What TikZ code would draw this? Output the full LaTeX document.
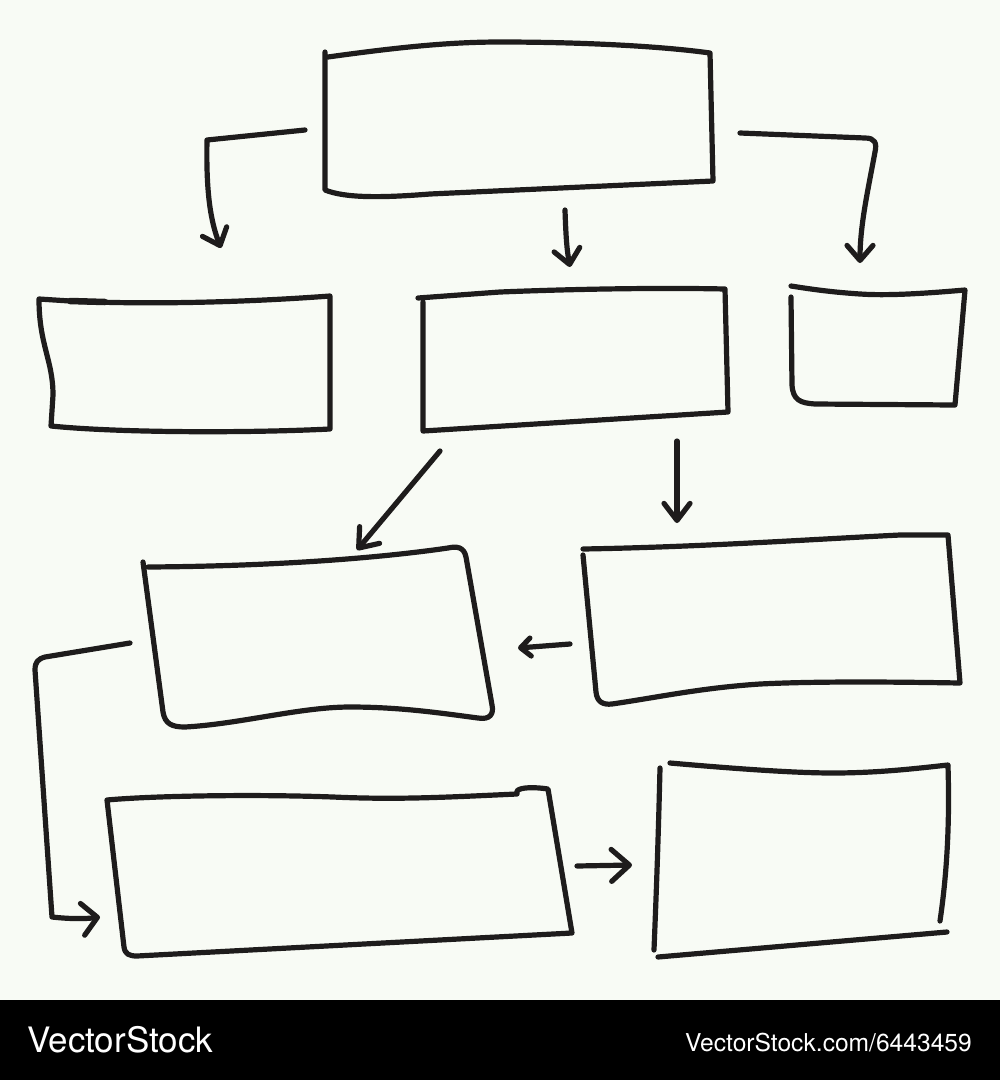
\documentclass[tikz,border=0pt]{standalone}
\usepackage{fontspec}
\newfontfamily\wmfont{TeX Gyre Heros}
\usetikzlibrary{arrows.meta}
\definecolor{paper}{RGB}{248,251,245}
\definecolor{ink}{RGB}{30,28,28}
\tikzset{
  sk/.style={draw=ink, line width=5.2pt, line cap=round, line join=round},
  arr/.style={sk, -{Straight Barb[round, length=#1, width=26pt]}},
  arr/.default=15pt,
  wm/.style={text=white, inner sep=0pt}
}
\begin{document}
\begin{tikzpicture}[x=1pt, y=-1pt]
\useasboundingbox (0,0) rectangle (1000,1080);
\fill[paper] (0,0) rectangle (1000,1000);
\fill[black] (0,1000) rectangle (1000,1080);

% ---- boxes ----
% top box A
\draw[sk] (325,52) -- (325,190) .. controls (345,198) and (380,198) .. (430,194) -- (713,181) -- (710,53)
  .. controls (660,46) and (580,42) .. (500,42) .. controls (450,42) and (400,47) .. (328,57);
% B1 left middle
\draw[sk] (39,299) .. controls (39,345) and (53,360) .. (53,395) -- (51,426)
  .. controls (120,433) and (250,433) .. (330,429) -- (330,296)
  .. controls (250,302) and (150,305) .. (70,301) -- (39,299);
\draw[sk, line width=6.5pt] (70,301) -- (105,302);
% B2 centre middle
\draw[sk] (418,298) -- (500,292) .. controls (600,288) and (680,288) .. (725,289) -- (728,412) -- (423,431) -- (423,302);
% B3 right middle
\draw[sk] (791,297) -- (792,385) .. controls (793,400) and (800,403) .. (815,404) -- (955,405) -- (965,290)
  .. controls (930,293) and (890,296) .. (860,294) .. controls (830,292) and (810,289) .. (791,286);
% C1
\draw[sk] (143,562) -- (163,712) .. controls (165,724) and (172,727) .. (185,727)
  .. controls (240,724) and (300,707) .. (350,707) .. controls (400,707) and (440,713) .. (478,718)
  .. controls (490,720) and (494,714) .. (492,705) -- (466,557)
  .. controls (464,547) and (457,546) .. (448,548) .. controls (400,555) and (300,566) .. (148,567);
% C2
\draw[sk] (583,555) -- (596,692) .. controls (597,702) and (603,705) .. (612,704)
  .. controls (660,697) and (700,688) .. (760,684) .. controls (820,681) and (900,682) .. (960,683)
  -- (948,535) -- (900,535) .. controls (800,540) and (700,547) .. (583,549);
% D1
\draw[sk] (107,800) -- (124,947) .. controls (125,954) and (129,956) .. (137,956) -- (572,933) -- (548,789)
  .. controls (535,787) and (520,787) .. (517,791) -- (517,794)
  .. controls (450,797) and (400,800) .. (333,797) .. controls (250,794) and (150,796) .. (107,800);
% D2
\draw[sk] (660,768) .. controls (658,850) and (656,900) .. (654,950);
\draw[sk] (670,763) .. controls (750,770) and (800,773) .. (833,773) .. controls (880,773) and (920,768) .. (948,765);
\draw[sk] (948,766) .. controls (950,830) and (946,880) .. (940,921);
\draw[sk] (658,957) -- (947,932);

% ---- connector ends ----
\coordinate (a1s) at (305,130);
\coordinate (a1e) at (221,248);
\coordinate (a2s) at (565,210);
\coordinate (a2e) at (570,267);
\coordinate (a3s) at (740,133);
\coordinate (a3e) at (860,263);
\coordinate (b2s) at (440,451);
\coordinate (b2e) at (357,550);
\coordinate (b3s) at (677,441);
\coordinate (b3e) at (677,523);
\coordinate (c2s) at (570,644);
\coordinate (c2e) at (518,648);
\coordinate (c1s) at (130,643);
\coordinate (c1e) at (100,917);
\coordinate (d1s) at (577,866);
\coordinate (d1e) at (632,865);

% ---- connectors ----
\draw[arr] (a1s) -- (207,140) .. controls (206,190) and (210,220) .. (a1e);
\draw[arr] (a2s) .. controls (566,240) and (567,250) .. (a2e);
\draw[arr] (a3s) -- (865,138) .. controls (875,138) and (877,143) .. (875,152)
  .. controls (868,190) and (860,225) .. (a3e);
\draw[arr=17pt] (b2s) -- (b2e);
\draw[arr=17pt] (b3s) -- (b3e);
\draw[sk, -{Straight Barb[round, length=10pt, width=18pt]}] (c2s) -- (c2e);
\draw[sk, -{Straight Barb[round, length=15pt, width=32pt]}] (c1s) -- (45,657) .. controls (38,659) and (35,662) .. (35,670)
  -- (52,917) .. controls (70,919) and (85,919) .. (c1e);
\draw[sk, -{Straight Barb[round, length=18pt, width=32pt]}] (d1s) -- (d1e);

% ---- watermark ----
\node[wm, anchor=base west, font=\wmfont\fontsize{35}{35}\selectfont] (wmleft) at (27,1052) {VectorStock};
\node[wm, anchor=base east, font=\wmfont\fontsize{24.6}{25}\selectfont] (wmright) at (972,1051) {VectorStock.com/6443459};
\end{tikzpicture}
\end{document}
